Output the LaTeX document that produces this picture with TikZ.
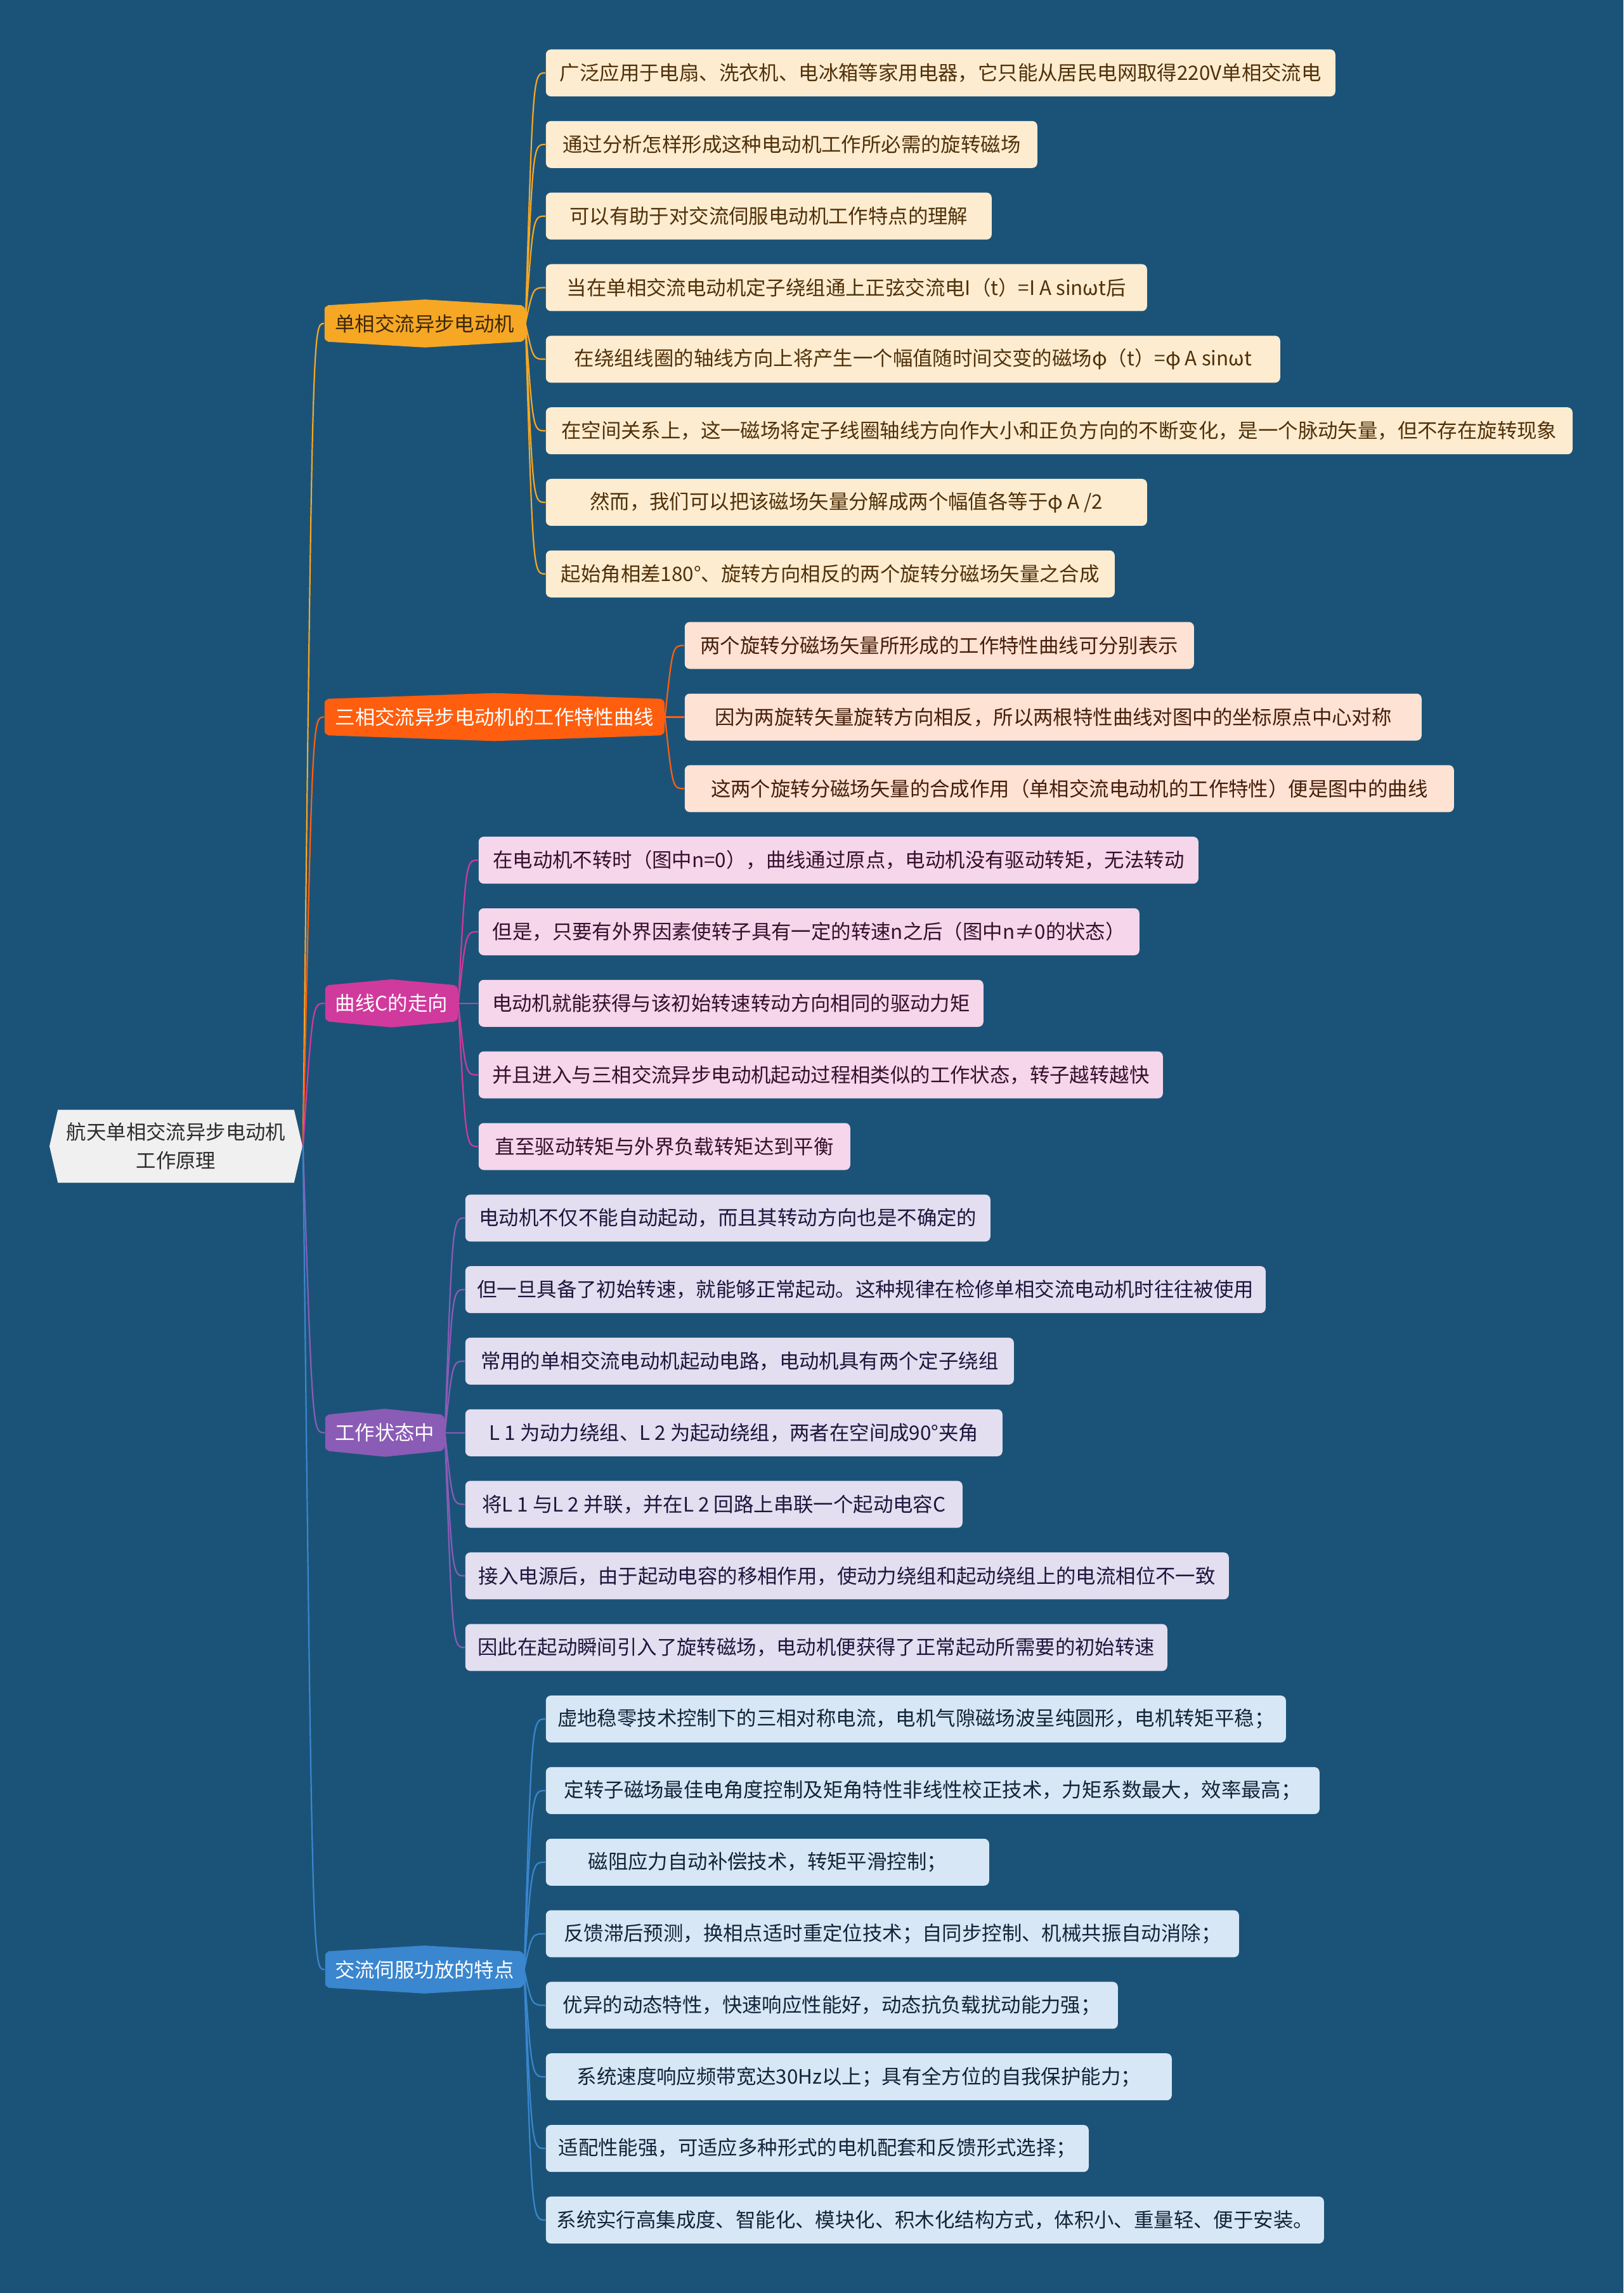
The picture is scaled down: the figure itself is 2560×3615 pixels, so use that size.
\documentclass[tikz,border=0pt]{standalone}
\usepackage{fontspec}
\setmainfont{Noto Sans CJK SC}
\usetikzlibrary{calc,backgrounds,shapes.symbols}
\definecolor{bg}{RGB}{27,83,120}
\definecolor{rootfill}{RGB}{240,240,240}
\definecolor{roottext}{RGB}{45,45,45}
\definecolor{cA}{RGB}{246,167,36}
\definecolor{cB}{RGB}{255,94,14}
\definecolor{cC}{RGB}{208,58,156}
\definecolor{cD}{RGB}{138,92,182}
\definecolor{cE}{RGB}{58,134,207}
\definecolor{lA}{RGB}{253,236,208}
\definecolor{lB}{RGB}{254,226,211}
\definecolor{lC}{RGB}{245,214,234}
\definecolor{lD}{RGB}{227,222,240}
\definecolor{lE}{RGB}{216,231,245}
\definecolor{tA}{RGB}{80,48,8}
\definecolor{tB}{RGB}{70,30,10}
\definecolor{tC}{RGB}{55,15,45}
\definecolor{tD}{RGB}{30,22,60}
\definecolor{tE}{RGB}{18,36,58}
\definecolor{tBr}{RGB}{58,40,10}
\tikzset{
  leafbox/.style={anchor=west, rounded corners=2pt, minimum height=18.5pt, inner sep=0pt, align=center},
  leafA/.style={leafbox, fill=lA, text=tA},
  leafB/.style={leafbox, fill=lB, text=tB},
  leafC/.style={leafbox, fill=lC, text=tC},
  leafD/.style={leafbox, fill=lD, text=tD},
  leafE/.style={leafbox, fill=lE, text=tE},
  branchbox/.style={anchor=west, rounded corners=1.5pt, minimum height=14pt, inner sep=0pt},
  lineA/.style={draw=cA, line width=0.55pt},
  lineB/.style={draw=cB, line width=0.55pt},
  lineC/.style={draw=cC, line width=0.55pt},
  lineD/.style={draw=cD, line width=0.55pt},
  lineE/.style={draw=cE, line width=0.55pt},
}
\newcommand{\bulge}[2]{\fill[#2] ($(#1.north west)+(6,0)$) -- ($(#1.north)+(0,-9)$) -- ($(#1.north east)+(-6,0)$) -- ($(#1.south east)+(-6,0)$) -- ($(#1.south)+(0,9)$) -- ($(#1.south west)+(6,0)$) -- cycle;}
\newcommand{\rtob}[2]{\draw[#2] (root.east) .. controls ($(root.east |- #1.west)+(15,0)$) .. (#1.west);}
\newcommand{\btol}[3]{\draw[#3] (#1.east) .. controls ($(#1.east |- #2.west)+(12,0)$) .. (#2.west);}
\begin{document}
\begin{tikzpicture}[x=0.25pt,y=-0.25pt,font=\fontsize{7.85pt}{9.6pt}\selectfont]
\useasboundingbox (0,0) rectangle (2560,3615);

% root
\node[signal, signal to=east and west, signal pointer angle=154, fill=rootfill, text=roottext,
      minimum width=99.75pt, minimum height=28.75pt, inner sep=0pt, align=center, font=\fontsize{7.85pt}{11.2pt}\selectfont]
      (root) at (277.5,1807) {航天单相交流异步电动机\\工作原理};

% branches
\node[branchbox, fill=cA, text=tBr, minimum width=79pt] (b1) at (511,510) {单相交流异步电动机};
\node[branchbox, fill=cB, text=white, minimum width=134pt] (b2) at (511,1130.5) {三相交流异步电动机的工作特性曲线};
\node[branchbox, fill=cC, text=white, minimum width=52.25pt] (b3) at (512,1581.8) {曲线C的走向};
\node[branchbox, fill=cD, text=white, minimum width=47pt] (b4) at (512,2258.8) {工作状态中};
\node[branchbox, fill=cE, text=white, minimum width=78.25pt] (b5) at (512,3105) {交流伺服功放的特点};

\begin{pgfonlayer}{background}
\fill[bg] (0,0) rectangle (2560,3615);
\bulge{b1}{cA}
\bulge{b2}{cB}
\bulge{b3}{cC}
\bulge{b4}{cD}
\bulge{b5}{cE}
\end{pgfonlayer}

% leaves branch 1
\node[leafA, minimum width=311.25pt] (a0) at (860,115) {广泛应用于电扇、洗衣机、电冰箱等家用电器，它只能从居民电网取得220V单相交流电};
\node[leafA, minimum width=193.75pt] (a1) at (860,227.8) {通过分析怎样形成这种电动机工作所必需的旋转磁场};
\node[leafA, minimum width=175.75pt] (a2) at (860,340.7) {可以有助于对交流伺服电动机工作特点的理解};
\node[leafA, minimum width=237pt] (a3) at (860,453.5) {当在单相交流电动机定子绕组通上正弦交流电I（t）=I A sinωt后};
\node[leafA, minimum width=289.5pt] (a4) at (860,566.3) {在绕组线圈的轴线方向上将产生一个幅值随时间交变的磁场φ（t）=φ A sinωt};
\node[leafA, minimum width=404.75pt] (a5) at (860,679.2) {在空间关系上，这一磁场将定子线圈轴线方向作大小和正负方向的不断变化，是一个脉动矢量，但不存在旋转现象};
\node[leafA, minimum width=237pt] (a6) at (860,792.0) {然而，我们可以把该磁场矢量分解成两个幅值各等于φ A /2};
\node[leafA, minimum width=224.25pt] (a7) at (860,904.8) {起始角相差180°、旋转方向相反的两个旋转分磁场矢量之合成};

% leaves branch 2
\node[leafB, minimum width=200.75pt] (a8) at (1079,1017.6) {两个旋转分磁场矢量所形成的工作特性曲线可分别表示};
\node[leafB, minimum width=290.5pt] (a9) at (1079,1130.5) {因为两旋转矢量旋转方向相反，所以两根特性曲线对图中的坐标原点中心对称};
\node[leafB, minimum width=303.25pt] (a10) at (1079,1243.3) {这两个旋转分磁场矢量的合成作用（单相交流电动机的工作特性）便是图中的曲线};

% leaves branch 3
\node[leafC, minimum width=283.75pt] (a11) at (754,1356.1) {在电动机不转时（图中n=0），曲线通过原点，电动机没有驱动转矩，无法转动};
\node[leafC, minimum width=260.5pt] (a12) at (754,1469.0) {但是，只要有外界因素使转子具有一定的转速n之后（图中n≠0的状态）};
\node[leafC, minimum width=199pt] (a13) at (754,1581.8) {电动机就能获得与该初始转速转动方向相同的驱动力矩};
\node[leafC, minimum width=269.75pt] (a14) at (754,1694.6) {并且进入与三相交流异步电动机起动过程相类似的工作状态，转子越转越快};
\node[leafC, minimum width=146.5pt] (a15) at (754,1807.5) {直至驱动转矩与外界负载转矩达到平衡};

% leaves branch 4
\node[leafD, minimum width=207pt] (a16) at (733,1920.3) {电动机不仅不能自动起动，而且其转动方向也是不确定的};
\node[leafD, minimum width=315.5pt] (a17) at (733,2033.1) {但一旦具备了初始转速，就能够正常起动。这种规律在检修单相交流电动机时往往被使用};
\node[leafD, minimum width=216.25pt] (a18) at (733,2145.9) {常用的单相交流电动机起动电路，电动机具有两个定子绕组};
\node[leafD, minimum width=211.75pt] (a19) at (733,2258.8) {L 1 为动力绕组、L 2 为起动绕组，两者在空间成90°夹角};
\node[leafD, minimum width=196pt] (a20) at (733,2371.6) {将L 1 与L 2 并联，并在L 2 回路上串联一个起动电容C};
\node[leafD, minimum width=301pt] (a21) at (733,2484.4) {接入电源后，由于起动电容的移相作用，使动力绕组和起动绕组上的电流相位不一致};
\node[leafD, minimum width=276.75pt] (a22) at (733,2597.3) {因此在起动瞬间引入了旋转磁场，电动机便获得了正常起动所需要的初始转速};

% leaves branch 5
\node[leafE, minimum width=291.75pt] (a23) at (860,2710.1) {虚地稳零技术控制下的三相对称电流，电机气隙磁场波呈纯圆形，电机转矩平稳；};
\node[leafE, minimum width=305pt] (a24) at (860,2822.9) {定转子磁场最佳电角度控制及矩角特性非线性校正技术，力矩系数最大，效率最高；};
\node[leafE, minimum width=174.75pt] (a25) at (860,2935.8) {磁阻应力自动补偿技术，转矩平滑控制；};
\node[leafE, minimum width=273.25pt] (a26) at (860,3048.6) {反馈滞后预测，换相点适时重定位技术；自同步控制、机械共振自动消除；};
\node[leafE, minimum width=225.5pt] (a27) at (860,3161.4) {优异的动态特性，快速响应性能好，动态抗负载扰动能力强；};
\node[leafE, minimum width=246.75pt] (a28) at (860,3274.2) {系统速度响应频带宽达30Hz以上；具有全方位的自我保护能力；};
\node[leafE, minimum width=214pt] (a29) at (860,3387.1) {适配性能强，可适应多种形式的电机配套和反馈形式选择；};
\node[leafE, minimum width=306.75pt] (a30) at (860,3499.9) {系统实行高集成度、智能化、模块化、积木化结构方式，体积小、重量轻、便于安装。};

% root to branches
\rtob{b1}{lineA}
\rtob{b2}{lineB}
\rtob{b3}{lineC}
\rtob{b4}{lineD}
\rtob{b5}{lineE}

% branch to leaves
\foreach \i in {0,...,7} {\btol{b1}{a\i}{lineA}}
\foreach \i in {8,9,10} {\btol{b2}{a\i}{lineB}}
\foreach \i in {11,...,15} {\btol{b3}{a\i}{lineC}}
\foreach \i in {16,...,22} {\btol{b4}{a\i}{lineD}}
\foreach \i in {23,...,30} {\btol{b5}{a\i}{lineE}}
\end{tikzpicture}
\end{document}
